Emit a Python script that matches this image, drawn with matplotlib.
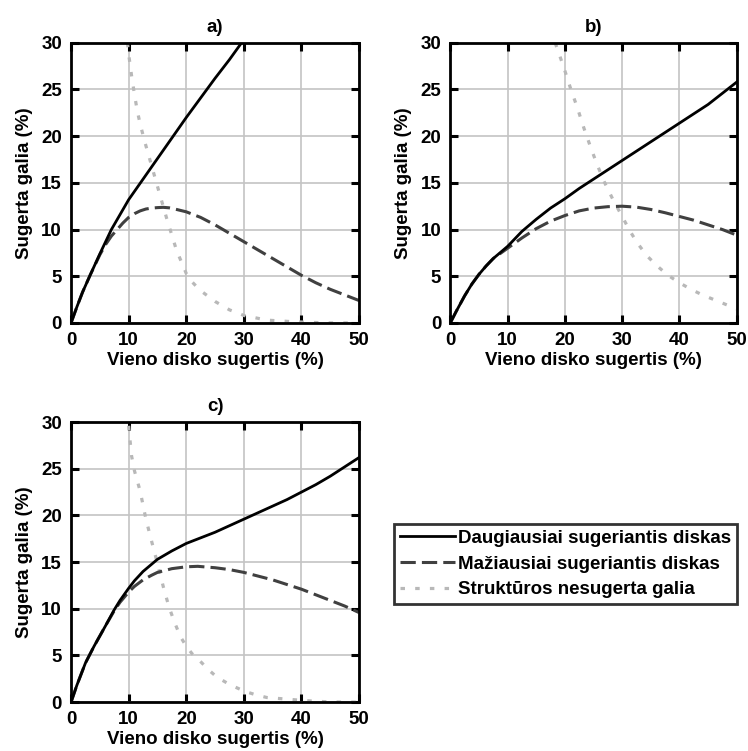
import matplotlib
matplotlib.use("Agg")
import matplotlib.pyplot as plt

plt.rcParams['font.family'] = ['Liberation Sans', 'DejaVu Sans']

# a) panel
a_max_x = [0, 1, 2, 3.3, 5, 7, 8.5, 10, 12.5, 15, 17.5, 20, 22.5, 25, 27.5, 29.6]
a_max_y = [0, 1.7, 3.3, 5.1, 7.4, 10, 11.6, 13.2, 15.4, 17.6, 19.8, 22.0, 24.1, 26.2, 28.2, 30]
a_min_x = [0, 1, 2, 3.3, 5, 6, 7, 8, 9, 10, 11, 12, 13, 14, 15, 16, 17, 18, 20,
           22.5, 25, 27.5, 30, 32.5, 35, 37.5, 40, 42.5, 45, 47.5, 50]
a_min_y = [0, 1.7, 3.3, 5.1, 7.3, 8.4, 9.3, 10.0, 10.7, 11.3, 11.7, 12.0, 12.2, 12.3,
           12.35, 12.38, 12.33, 12.2, 11.9, 11.3, 10.5, 9.6, 8.7, 7.8, 6.9, 6.0, 5.1,
           4.3, 3.6, 3.0, 2.4]
a_rest_x = [9.8, 10, 10.5, 11, 11.5, 12, 12.8, 14, 15.2, 16.6, 18.3, 20, 21, 22.4,
            25, 27.5, 30, 34, 38, 42, 45, 50]
a_rest_y = [30, 28.8, 26.5, 24.5, 22.7, 21.3, 19.4, 16.8, 14.2, 11.2, 7.8, 5.3, 4.4,
            3.5, 2.3, 1.4, 0.8, 0.3, 0.15, 0.05, 0, 0]

# b) panel
b_max_x = [0, 1, 2.5, 3.75, 5, 6.25, 7.5, 10, 12.5, 15, 17.5, 20, 22.5, 25, 27.5, 30,
           32.5, 35, 37.5, 40, 42.5, 45, 47.5, 50]
b_max_y = [0, 1.2, 2.9, 4.15, 5.2, 6.1, 6.9, 8.2, 9.8, 11.1, 12.3, 13.3, 14.4, 15.4,
           16.4, 17.4, 18.4, 19.4, 20.4, 21.4, 22.4, 23.4, 24.6, 25.8]
b_min_x = [0, 1, 2.5, 3.75, 5, 6.25, 7.5, 10, 12.5, 15, 17.5, 20, 22.5, 25, 27.5, 30,
           32.5, 35, 37.5, 40, 42.5, 45, 47.5, 50]
b_min_y = [0, 1.2, 2.9, 4.15, 5.2, 6.1, 6.9, 8.0, 9.1, 10.1, 10.9, 11.5, 12.0, 12.3,
           12.45, 12.5, 12.4, 12.15, 11.8, 11.4, 11.0, 10.5, 10.0, 9.4]
b_rest_x = [18.3, 19, 20, 21, 22.2, 23.3, 24.5, 25.6, 26.8, 28.4, 30, 31.3, 32.6,
            34.3, 36.1, 38, 40, 42, 44, 46, 48, 50]
b_rest_y = [30, 28.8, 27.0, 25.1, 23.0, 20.9, 18.8, 17.0, 15.2, 13.2, 11.4, 9.9, 8.6,
            7.2, 6.1, 5.1, 4.3, 3.6, 3.0, 2.5, 2.0, 1.5]

# c) panel
c_max_x = [0, 1, 2.5, 4, 5, 6, 7.5, 8.5, 10, 11, 12.5, 15, 17.5, 20, 22.5, 25,
           27.5, 30, 32.5, 35, 37.5, 40, 42.5, 45, 47.5, 50]
c_max_y = [0, 1.8, 4.2, 6.0, 7.1, 8.2, 9.9, 10.9, 12.2, 13.0, 14.0, 15.3, 16.2, 17.0,
           17.6, 18.2, 18.9, 19.6, 20.3, 21.0, 21.7, 22.5, 23.3, 24.2, 25.2, 26.2]
c_min_x = [0, 1, 2.5, 4, 5, 6, 7.5, 8.5, 10, 11, 12.5, 14, 15, 17.5, 20, 22, 25,
           27.5, 30, 32.5, 35, 37.5, 40, 42.5, 45, 47.5, 50]
c_min_y = [0, 1.8, 4.2, 6.0, 7.1, 8.2, 9.8, 10.7, 11.8, 12.4, 13.1, 13.6, 13.9, 14.3,
           14.5, 14.55, 14.4, 14.2, 13.9, 13.5, 13.1, 12.6, 12.1, 11.5, 10.9, 10.3, 9.6]
c_rest_x = [10, 10.5, 11, 12, 13, 14, 14.9, 16, 17, 18, 19, 20, 21, 22.4, 24, 25.3,
            27.5, 30, 32, 34, 37, 40, 42.5, 45, 50]
c_rest_y = [29.6, 26.4, 24.8, 22.6, 19.6, 17.2, 15.1, 12.4, 10.2, 8.5, 7.0, 6.0, 5.2,
            4.4, 3.4, 2.7, 1.9, 1.2, 0.8, 0.5, 0.35, 0.2, 0.1, 0.03, 0]

titles = ["a)", "b)", "c)"]
labels = ["Daugiausiai sugeriantis diskas", "Mažiausiai sugeriantis diskas",
          "Struktūros nesugerta galia"]
x_ticks = [0, 10, 20, 30, 40, 50]
y_ticks = [0, 5, 10, 15, 20, 25, 30]

panels = [
    (a_max_x, a_max_y, a_min_x, a_min_y, a_rest_x, a_rest_y),
    (b_max_x, b_max_y, b_min_x, b_min_y, b_rest_x, b_rest_y),
    (c_max_x, c_max_y, c_min_x, c_min_y, c_rest_x, c_rest_y),
]
positions = [
    [0.095, 0.570, 0.385, 0.373],
    [0.602, 0.570, 0.383, 0.373],
    [0.095, 0.065, 0.385, 0.373],
]

fs = 13.5
fig = plt.figure(figsize=(7.48, 7.51), dpi=100)

handles = []
for i, p in enumerate(panels):
    ax = fig.add_axes(positions[i])
    ax.grid(True, color="#c4c4c4", lw=1.2)
    ax.set_axisbelow(True)
    h1, = ax.plot(p[4], p[5], color="#b8b8b8", lw=2.3, linestyle=(0, (1.4, 3.2)))
    h2, = ax.plot(p[2], p[3], color="#404040", lw=2.2, linestyle=(0, (5, 2)))
    h3, = ax.plot(p[0], p[1], color="black", lw=2.0)
    handles = [h3, h2, h1]
    ax.set_xlim(0, 50)
    ax.set_ylim(0, 30)
    ax.set_xticks(x_ticks)
    ax.set_yticks(y_ticks)
    ax.tick_params(direction="in", length=6, width=2.2, top=True, right=True,
                   labelsize=fs, pad=6.5)
    for lab in ax.get_xticklabels() + ax.get_yticklabels():
        lab.set_fontweight("bold")
    for s in ax.spines.values():
        s.set_linewidth(2)
    ax.set_title(titles[i], fontsize=fs, fontweight="bold", pad=8)
    ax.set_xlabel("Vieno disko sugertis (%)", fontsize=fs, fontweight="bold", labelpad=2)
    ax.set_ylabel("Sugerta galia (%)", fontsize=fs, fontweight="bold", labelpad=6)

leg = fig.legend(handles, labels, loc="upper left", bbox_to_anchor=(0.527, 0.302),
                 prop={"weight": "bold", "size": fs}, frameon=True,
                 fancybox=False, edgecolor="black", borderpad=0.3,
                 handlelength=2.95, handletextpad=0.16, labelspacing=0.45,
                 borderaxespad=0)
leg.get_frame().set_linewidth(2)

plt.savefig("out.png", dpi=100)
